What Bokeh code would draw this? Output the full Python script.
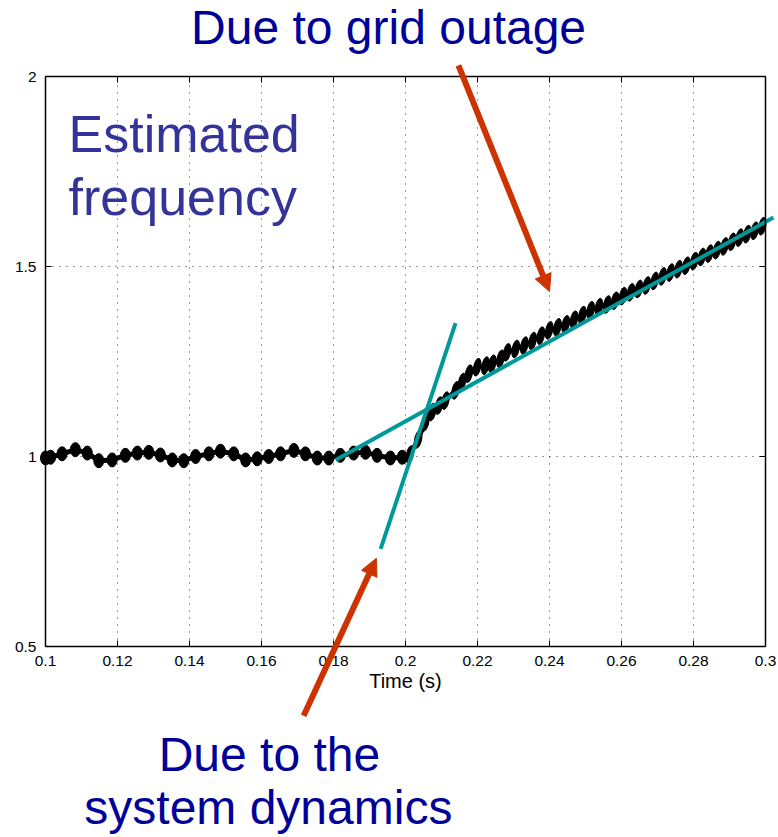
from bokeh.plotting import figure
from bokeh.models import Range1d, FixedTicker, LinearAxis, Label, Arrow, NormalHead
from bokeh.embed import file_html
from bokeh.resources import INLINE

# ---- data ----
x_ticks = [0.1, 0.12, 0.14, 0.16, 0.18, 0.2, 0.22, 0.24, 0.26, 0.28, 0.3]
x_tick_labels = ["0.1", "0.12", "0.14", "0.16", "0.18", "0.2", "0.22", "0.24", "0.26", "0.28", "0.3"]
y_ticks = [0.5, 1.0, 1.5, 2.0]
y_tick_labels = ["0.5", "1", "1.5", "2"]
x_lim = [0.1, 0.3]
y_lim = [0.5, 2.0]

# estimated frequency before the outage (centres of the ripple blobs)
flat_t = [0.1000, 0.1014, 0.1046, 0.1083, 0.1116, 0.1148, 0.1185, 0.1222, 0.1255, 0.1287,
          0.1319, 0.1352, 0.1384, 0.1417, 0.1454, 0.1486, 0.1523, 0.1556, 0.1588, 0.1620,
          0.1653, 0.1690, 0.1722, 0.1755, 0.1787, 0.1819, 0.1856, 0.1889, 0.1921, 0.1958,
          0.1991]
flat_f = [0.996, 0.998, 1.007, 1.018, 1.009, 0.989, 0.991, 1.003, 1.009, 1.011,
          1.004, 0.991, 0.989, 1.000, 1.007, 1.014, 1.007, 0.991, 0.994, 1.000,
          1.007, 1.016, 1.007, 0.996, 0.996, 1.003, 1.009, 1.011, 1.003, 0.996,
          0.998]

# estimated frequency after the outage (centres of the ripple streaks)
rise_t = [0.2012, 0.2035, 0.2055, 0.2074, 0.2093, 0.2111, 0.2139, 0.2157, 0.2176, 0.2199,
          0.2222, 0.2241, 0.2264, 0.2282, 0.2306, 0.2330, 0.2353, 0.2376, 0.2399, 0.2422,
          0.2445, 0.2468, 0.2491, 0.2514, 0.2537, 0.2560, 0.2582, 0.2604, 0.2626, 0.2648,
          0.2670, 0.2692, 0.2714, 0.2736, 0.2758, 0.2780, 0.2802, 0.2823, 0.2844, 0.2865,
          0.2886, 0.2907, 0.2928, 0.2949, 0.2970, 0.2991]
rise_f = [1.005, 1.045, 1.090, 1.117, 1.134, 1.147, 1.174, 1.196, 1.218, 1.235,
          1.239, 1.244, 1.257, 1.274, 1.283, 1.292, 1.304, 1.318, 1.332, 1.340,
          1.348, 1.360, 1.372, 1.385, 1.393, 1.400, 1.410, 1.422, 1.432, 1.441,
          1.450, 1.462, 1.474, 1.484, 1.493, 1.502, 1.514, 1.525, 1.534, 1.543,
          1.553, 1.565, 1.576, 1.585, 1.594, 1.606]

# fitted straight lines
fit_outage_t = [0.1806, 0.3022]
fit_outage_f = [0.991, 1.629]
fit_dynamics_t = [0.1931, 0.2139]
fit_dynamics_f = [0.757, 1.351]

# annotation anchors (data coordinates: x_start, y_start, x_end, y_end)
arrow_outage = (0.2147, 2.029, 0.2400, 1.434)
arrow_dynamics = (0.1717, 0.318, 0.1919, 0.732)

BLUE = "#000099"
PURPLE = "#333399"
RED = "#CC3300"
TEAL = "#009999"
FONT = "Liberation Sans"

# ---- layout: the axes box sits inside a canvas-wide frame so that the
#      annotations may run outside the box, as in the original ----
W, H = 776, 835
BOX_L, BOX_R, BOX_T, BOX_B = 45, 765, 76, 646
xpp = (x_lim[1] - x_lim[0]) / (BOX_R - BOX_L)
ypp = (y_lim[1] - y_lim[0]) / (BOX_B - BOX_T)
x_range = Range1d(x_lim[0] - BOX_L * xpp, x_lim[1] + (W - BOX_R) * xpp)
y_range = Range1d(y_lim[0] - (H - BOX_B) * ypp, y_lim[1] + BOX_T * ypp)

p = figure(width=W, height=H, output_backend="svg", toolbar_location=None,
           x_range=x_range, y_range=y_range,
           min_border_left=0, min_border_right=0, min_border_top=0, min_border_bottom=0)
p.background_fill_color = "white"
p.border_fill_color = "white"
p.outline_line_color = None
p.grid.visible = False

# dotted grid inside the box
gx = [t for t in x_ticks if x_lim[0] < t < x_lim[1]]
gy = [v for v in y_ticks if y_lim[0] < v < y_lim[1]]
p.segment(x0=gx, y0=[y_lim[0]] * len(gx), x1=gx, y1=[y_lim[1]] * len(gx),
          line_color="#333333", line_dash="1 6", line_width=1)
p.segment(x0=[x_lim[0]] * len(gy), y0=gy, x1=[x_lim[1]] * len(gy), y1=gy,
          line_color="#333333", line_dash="1 6", line_width=1)


def style_axis(ax, ticks, labels, show_labels):
    ax.ticker = FixedTicker(ticks=ticks)
    ax.major_label_overrides = dict(zip(ticks, labels))
    ax.major_tick_in = 6
    ax.major_tick_out = 0
    ax.major_tick_line_color = "black"
    ax.minor_tick_line_color = None
    ax.axis_line_color = "black"
    ax.axis_line_width = 1.5
    ax.major_label_text_font = FONT
    ax.major_label_text_font_size = "15.5px"
    ax.major_label_text_color = "black" if show_labels else None
    ax.major_label_standoff = 9


bottom = p.xaxis[0]
left = p.yaxis[0]
top = LinearAxis()
right = LinearAxis()
p.add_layout(top, "above")
p.add_layout(right, "right")

style_axis(bottom, x_ticks, x_tick_labels, True)
style_axis(top, x_ticks, x_tick_labels, False)
style_axis(left, y_ticks, y_tick_labels, True)
style_axis(right, y_ticks, y_tick_labels, False)
bottom.fixed_location = y_lim[0]
top.fixed_location = y_lim[1]
left.fixed_location = x_lim[0]
right.fixed_location = x_lim[1]
bottom.bounds = tuple(x_lim)
top.bounds = tuple(x_lim)
left.bounds = tuple(y_lim)
right.bounds = tuple(y_lim)

bottom.axis_label = "Time (s)"
bottom.axis_label_text_font = FONT
bottom.axis_label_text_font_size = "20px"
bottom.axis_label_text_font_style = "normal"
bottom.axis_label_text_color = "black"
bottom.axis_label_standoff = 1

# black estimated frequency trace
p.line(flat_t, flat_f, line_color="black", line_width=5)
p.line([flat_t[-1]] + rise_t, [flat_f[-1]] + rise_f, line_color="black", line_width=4.5)
p.ellipse(flat_t, flat_f, width=10, height=14, width_units="screen", height_units="screen",
          fill_color="black", line_color="black")
p.ellipse(rise_t, rise_f, width=7, height=18, angle=-0.2, width_units="screen",
          height_units="screen", fill_color="black", line_color="black")

# teal fitted lines
p.line(fit_outage_t, fit_outage_f, line_color=TEAL, line_width=4)
p.line(fit_dynamics_t, fit_dynamics_f, line_color=TEAL, line_width=4)

# red arrows
for (xs, ys, xe, ye) in (arrow_outage, arrow_dynamics):
    p.add_layout(Arrow(x_start=xs, y_start=ys, x_end=xe, y_end=ye,
                       line_color=RED, line_width=6,
                       end=NormalHead(size=17, fill_color=RED, line_color=RED, line_width=1)))

# texts
p.add_layout(Label(x=0.1953, y=2.1289, text="Due to grid outage", text_font=FONT,
                   text_font_size="48px", text_color=BLUE, text_align="center",
                   text_baseline="alphabetic"))
p.add_layout(Label(x=0.1064, y=1.850, text="Estimated", text_font=FONT,
                   text_font_size="52px", text_color=PURPLE, text_align="left",
                   text_baseline="alphabetic"))
p.add_layout(Label(x=0.1064, y=1.684, text="frequency", text_font=FONT,
                   text_font_size="52px", text_color=PURPLE, text_align="left",
                   text_baseline="alphabetic"))
p.add_layout(Label(x=0.1622, y=0.2158, text="Due to the", text_font=FONT,
                   text_font_size="48px", text_color=BLUE, text_align="center",
                   text_baseline="alphabetic"))
p.add_layout(Label(x=0.1619, y=0.0763, text="system dynamics", text_font=FONT,
                   text_font_size="48px", text_color=BLUE, text_align="center",
                   text_baseline="alphabetic"))

open("out.html", "w").write(file_html(p, INLINE))
